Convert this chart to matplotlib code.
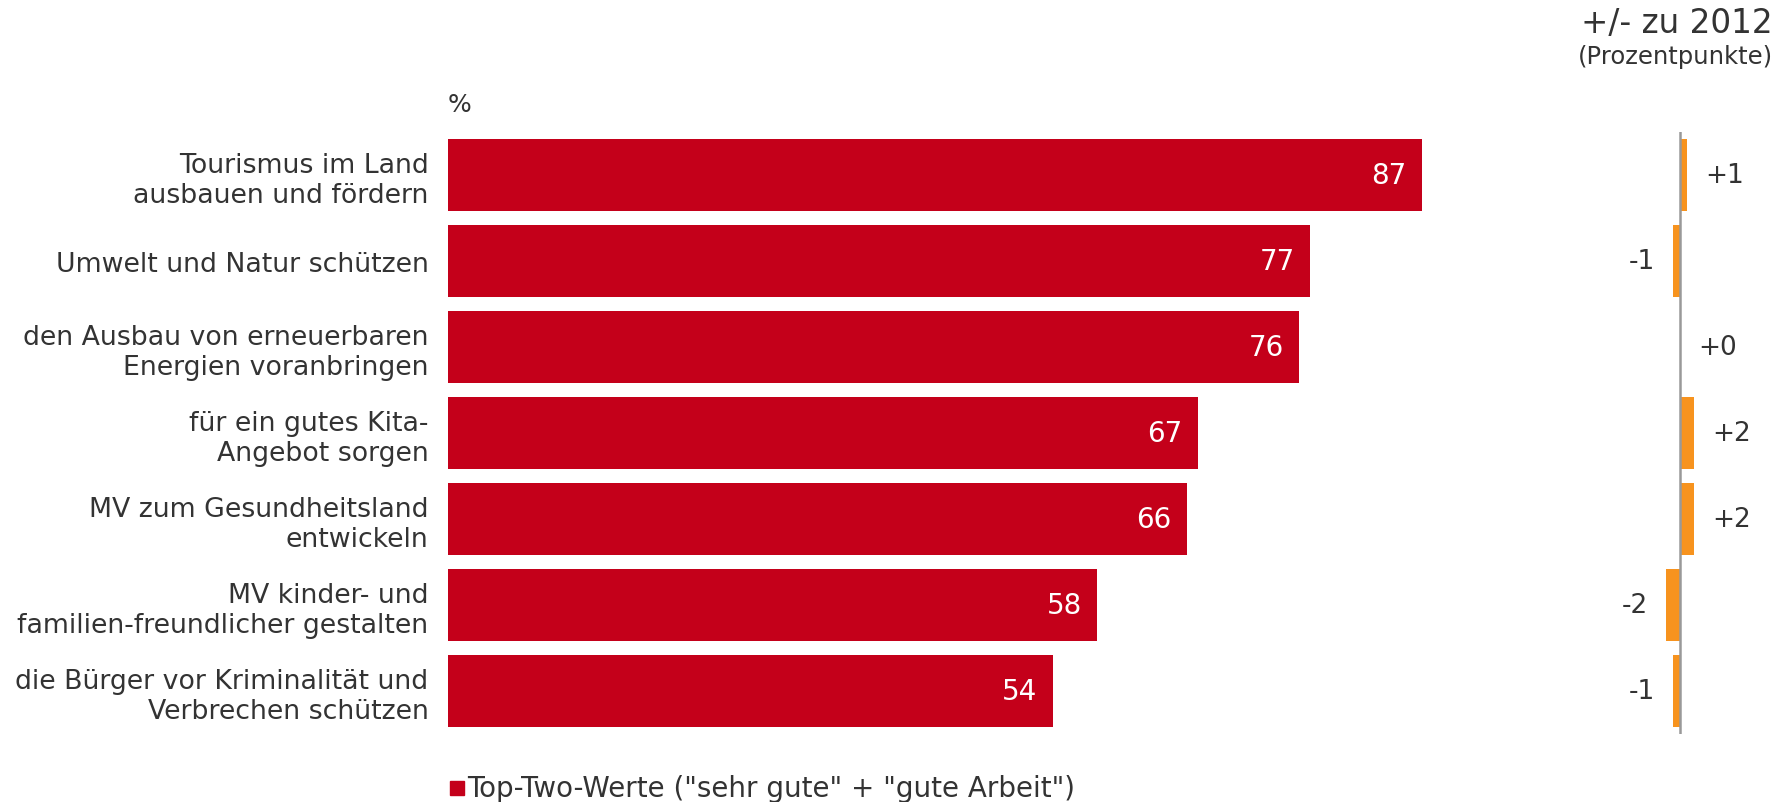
import numpy as np
import matplotlib.pyplot as plt

# Zustimmung zu Aufgaben der Landesregierung, Top-Two-Werte in Prozent
categories = [
    "Tourismus im Land\nausbauen und fördern",
    "Umwelt und Natur schützen",
    "den Ausbau von erneuerbaren\nEnergien voranbringen",
    "für ein gutes Kita-\nAngebot sorgen",
    "MV zum Gesundheitsland\nentwickeln",
    "MV kinder- und\nfamilien-freundlicher gestalten",
    "die Bürger vor Kriminalität und\nVerbrechen schützen",
]
top_two = [87, 77, 76, 67, 66, 58, 54]
# Veränderung gegenüber 2012 in Prozentpunkten
delta = [1, -1, 0, 2, 2, -2, -1]

red = "#c4001a"
orange = "#f7931e"
txt = "#333333"

plt.rcParams['font.family'] = ['DejaVu Sans']
W, H = 1787, 803
fig = plt.figure(figsize=(W / 100, H / 100), dpi=100)

def px_axes(x0, y0, x1, y1):
    # axes from pixel box (top-left origin)
    return fig.add_axes([x0 / W, 1 - y1 / H, (x1 - x0) / W, (y1 - y0) / H])

y = np.arange(len(categories))

# main bars
ax = px_axes(448, 133, 1422, 735)
ax.barh(y, top_two, height=0.84, color=red)
ax.set_xlim(0, 87)
ax.set_ylim(len(categories) - 0.5, -0.5)
ax.set_yticks(y)
ax.set_yticklabels(categories, fontsize=19.3, color=txt, linespacing=1.2)
ax.tick_params(axis='y', length=0, pad=14)
ax.set_xticks([])
for s in ax.spines.values():
    s.set_visible(False)
for yi, v in zip(y, top_two):
    ax.annotate(str(v), (v, yi), xytext=(-11, 0), textcoords='offset points',
                ha='right', va='center', color='white', fontsize=20)

fig.text(448 / W, 1 - 105 / H, "%", fontsize=18, color=txt, va='center', ha='left')

# change vs 2012
ax2 = px_axes(1610, 133, 1750, 735)
ax2.barh(y, delta, height=0.84, color=orange)
ax2.set_xlim(-10, 10)
ax2.set_ylim(len(categories) - 0.5, -0.5)
ax2.axvline(0, color='#999999', lw=1.8)
ax2.axis('off')
for yi, d in zip(y, delta):
    if d >= 0:
        ax2.annotate(f"+{d}", (d, yi), xytext=(13, 0), textcoords='offset points',
                     ha='left', va='center', color=txt, fontsize=19)
    else:
        ax2.annotate(f"-{abs(d)}", (d, yi), xytext=(-13, 0), textcoords='offset points',
                     ha='right', va='center', color=txt, fontsize=19)

fig.text(1773 / W, 1 - 24 / H, "+/- zu 2012", fontsize=23.5, color=txt, ha='right', va='center')
fig.text(1773 / W, 1 - 57 / H, "(Prozentpunkte)", fontsize=17.5, color=txt, ha='right', va='center')

# legend
fig.patches.append(plt.Rectangle((450 / W, 1 - 796 / H), 14 / W, 14 / H,
                                 transform=fig.transFigure, color=red))
fig.text(467 / W, 1 - 789 / H, 'Top-Two-Werte ("sehr gute" + "gute Arbeit")',
         fontsize=20, color=txt, ha='left', va='center')

fig.savefig("out.png", dpi=100)
